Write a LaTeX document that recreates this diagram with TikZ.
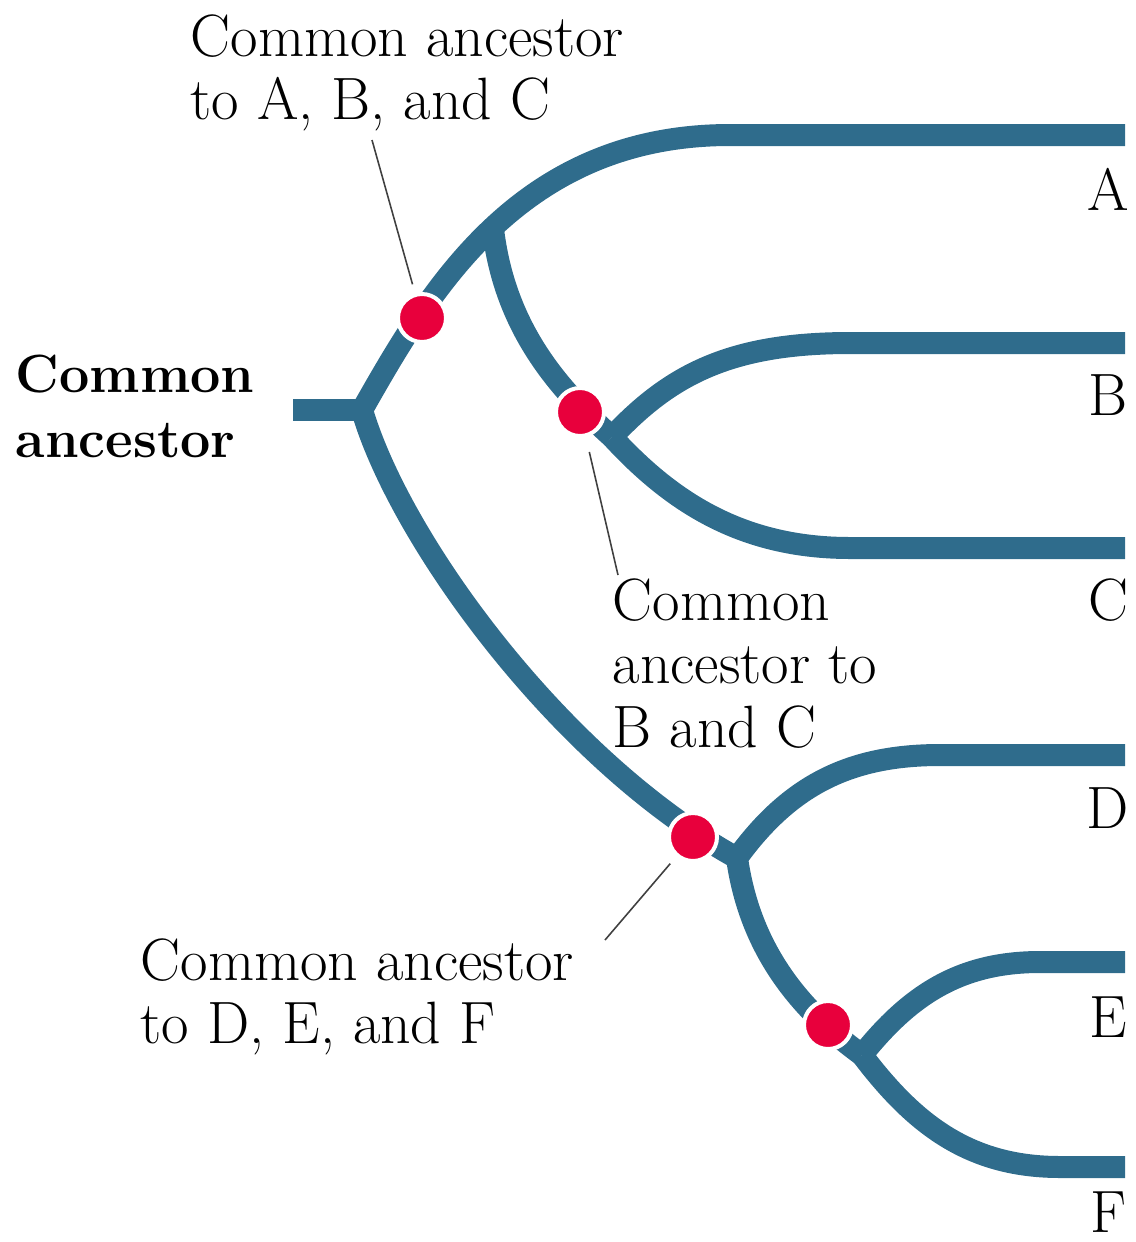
\documentclass[tikz,border=0pt]{standalone}
\usepackage{tikz}
\usetikzlibrary{positioning}
\usepackage{xcolor}
\definecolor{branchblue}{HTML}{2F6C8C}
\definecolor{ancestorred}{HTML}{E8003C}

\begin{document}
\begin{tikzpicture}[x=0.1mm, y=-0.1mm,
    branch/.style={draw=branchblue, line width=2.2mm},
    ancestor/.style={circle, fill=ancestorred, draw=white, line width=0.4mm, minimum size=4.8mm, inner sep=0pt},
    leader/.style={draw=black!75, line width=0.45pt},
    caption/.style={align=left, inner sep=0pt, anchor=north west, font=\fontsize{17}{18}\selectfont},
    tip/.style={inner sep=0pt, anchor=base, font=\fontsize{17}{18}\selectfont},
]
\useasboundingbox (0,0) rectangle (1136,1242);

\coordinate (stub) at (293,410);
\coordinate (root) at (362,410);
\coordinate (jBC) at (493,229);
\coordinate (jDEF) at (737,858);
\coordinate (jEF) at (862,1055);
\coordinate (endA) at (1125,135);
\coordinate (endB) at (1125,343);
\coordinate (endC) at (1125,548);
\coordinate (endD) at (1125,755);
\coordinate (endE) at (1125,962);
\coordinate (endF) at (1125,1167);

\draw[branch] (stub) -- (root);
\draw[branch] (root) .. controls (430,290) and (520,135) .. (730,135) -- (endA);
\draw[branch] (jBC) .. controls (505,330) and (560,390) .. (612,437) coordinate (jBCfork);
\draw[branch] (jBCfork) .. controls (670,375) and (730,343) .. (850,343) -- (endB);
\draw[branch] (jBCfork) .. controls (670,500) and (740,548) .. (850,548) -- (endC);
\draw[branch] (root) .. controls (400,540) and (560,760) .. (jDEF);
\draw[branch] (jDEF) .. controls (790,785) and (850,755) .. (940,755) -- (endD);
\draw[branch] (jDEF) .. controls (750,950) and (800,1010) .. (jEF);
\draw[branch] (jEF) .. controls (910,995) and (960,962) .. (1040,962) -- (endE);
\draw[branch] (jEF) .. controls (915,1125) and (970,1167) .. (1060,1167) -- (endF);

\node[ancestor] (ancABC) at (422,318) {};
\node[ancestor] (ancBC) at (580,412) {};
\node[ancestor] (ancDEF) at (693,837) {};
\node[ancestor] (ancEF) at (828,1025) {};

\node[caption] (capABC) at (190,14) {Common ancestor\\to A, B, and C};
\node[caption] (capBC) at (612,578) {Common\\ancestor to\\B and C};
\node[caption] (capDEF) at (140,938) {Common ancestor\\to D, E, and F};
\node[caption, font=\fontsize{15.3}{18.5}\selectfont\bfseries] (capRoot) at (15,354) {Common\\ancestor};

\coordinate (lnABC) at (372,140);
\coordinate (lnBC) at (618,575);
\coordinate (lnDEF) at (605,940);
\draw[leader, shorten >=0.9mm] (lnABC) -- (ancABC);
\draw[leader, shorten >=1.5mm] (lnBC) -- (ancBC);
\draw[leader, shorten >=0.9mm] (lnDEF) -- (ancDEF);

\foreach \n/\y in {A/210,B/415,C/620,D/828,E/1037,F/1232} {
    \node[tip] (tip\n) at (1108,\y) {\n};
}
\end{tikzpicture}
\end{document}
